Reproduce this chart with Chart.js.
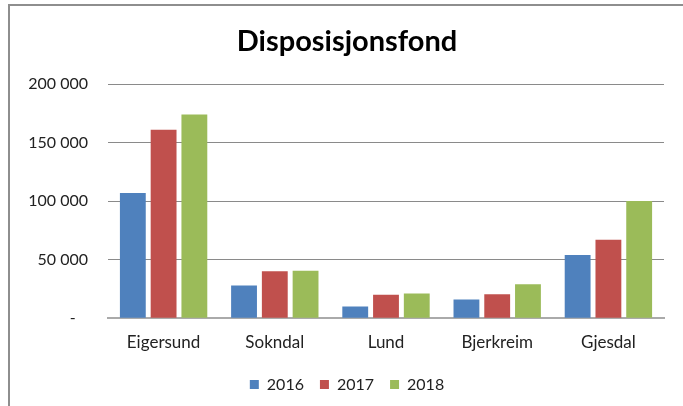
<!DOCTYPE html>
<html>
<head>
<meta charset="utf-8">
<script src="https://cdn.jsdelivr.net/npm/chart.js@4"></script>
<style>
  html, body { margin: 0; padding: 0; background: #fff; }
  #wrap { position: relative; width: 683px; height: 406px; overflow: hidden; }
  #frame { position: absolute; left: 8px; top: 4px; width: 700px; height: 420px;
           border-left: 2px solid #8e8e8e; border-top: 2px solid #8e8e8e; }
  canvas { position: absolute; left: 0; top: 0; }
</style>
</head>
<body>
<div id="wrap">
  <div id="frame"></div>
  <canvas id="myChart" width="683" height="406"></canvas>
</div>
<script>
const kommuner = ['Eigersund', 'Sokndal', 'Lund', 'Bjerkreim', 'Gjesdal'];
const fond2016 = [107000, 28000, 10000, 16000, 54000];
const fond2017 = [161000, 40000, 20000, 20500, 67000];
const fond2018 = [174000, 40500, 21000, 29000, 100000];
const yTicks = [0, 50000, 100000, 150000, 200000];

function fmt(v) {
  if (v === 0) return '-   ';
  return String(v).replace(/\B(?=(\d{3})+(?!\d))/g, ' ');
}

const font = 'Lato, "Open Sans", sans-serif';
const ctx = document.getElementById('myChart');

// let the y labels run left of the axis box without being clipped
const unclipY = {
  id: 'unclipY',
  afterLayout(chart) { chart.scales.y.left = 0; }
};

new Chart(ctx, {
  type: 'bar',
  data: {
    labels: kommuner,
    datasets: [
      { label: '2016', data: fond2016, backgroundColor: '#4F81BD' },
      { label: '2017', data: fond2017, backgroundColor: '#C0504D' },
      { label: '2018', data: fond2018, backgroundColor: '#9BBB59' }
    ]
  },
  plugins: [unclipY],
  options: {
    responsive: false,
    animation: false,
    layout: { padding: { left: 30, right: 19, top: 0, bottom: 3.4 } },
    datasets: { bar: { categoryPercentage: 0.83, barPercentage: 0.84 } },
    plugins: {
      title: {
        display: true,
        text: 'Disposisjonsfond',
        color: '#000',
        font: { family: font, size: 29, weight: 'bold' },
        padding: { top: 24, bottom: 25.2 }
      },
      legend: {
        position: 'bottom',
        labels: {
          color: '#222',
          font: { family: font, size: 16 },
          boxWidth: 9,
          boxHeight: 9,
          padding: 16
        }
      },
      tooltip: { enabled: false }
    },
    scales: {
      x: {
        grid: { display: false, drawTicks: false },
        border: { display: true, color: '#aaaaaa', width: 2 },
        ticks: { color: '#222', font: { family: font, size: 17 }, padding: 14 },
        afterFit: (s) => { s.height = 42.4; }
      },
      y: {
        min: 0,
        max: 200000,
        afterBuildTicks: (s) => { s.ticks = yTicks.map(v => ({ value: v })); },
        grid: { color: '#8a8a8a', lineWidth: 1, drawTicks: false },
        border: { display: false },
        ticks: {
          color: '#222',
          font: { family: font, size: 16 },
          padding: 20,
          callback: (v) => fmt(v)
        },
        afterFit: (s) => { s.width = 78; }
      }
    }
  }
});
</script>
</body>
</html>
